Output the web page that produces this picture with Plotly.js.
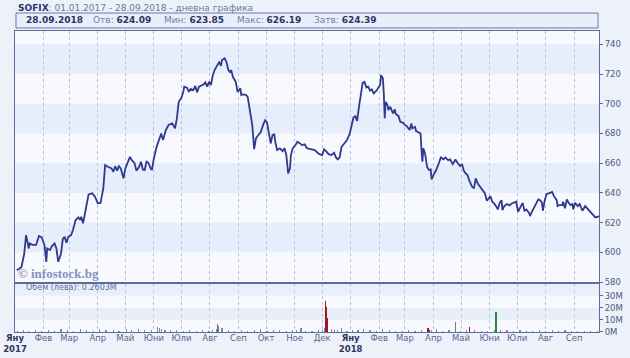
<!DOCTYPE html>
<html><head><meta charset="utf-8">
<script src="https://cdn.plot.ly/plotly-3.0.1.min.js"></script>
<style>html,body{margin:0;padding:0;background:#edf1fa;}#chart{width:630px;height:358px;}</style>
</head><body><div id="chart"></div>
<script>
const dates = ['2017-01-03','2017-01-08','2017-01-11','2017-01-13','2017-01-16','2017-01-17','2017-01-20','2017-01-24','2017-01-27','2017-01-30',
'2017-02-02','2017-02-04','2017-02-05','2017-02-08','2017-02-10','2017-02-13','2017-02-15','2017-02-17','2017-02-20','2017-02-22','2017-02-24','2017-02-26','2017-02-28',
'2017-03-03','2017-03-05','2017-03-08','2017-03-11','2017-03-13','2017-03-14','2017-03-16','2017-03-18','2017-03-20','2017-03-22','2017-03-26','2017-03-29',
'2017-04-01','2017-04-04','2017-04-07','2017-04-09','2017-04-12','2017-04-16','2017-04-18','2017-04-20','2017-04-22','2017-04-24','2017-04-26','2017-04-29',
'2017-05-01','2017-05-04','2017-05-06','2017-05-08','2017-05-11','2017-05-13','2017-05-16','2017-05-18','2017-05-20','2017-05-22','2017-05-24','2017-05-26','2017-05-29','2017-05-30',
'2017-06-01','2017-06-04','2017-06-06','2017-06-09','2017-06-11','2017-06-14','2017-06-17','2017-06-21','2017-06-24','2017-06-26','2017-06-28',
'2017-07-01','2017-07-03','2017-07-04','2017-07-07','2017-07-09','2017-07-11','2017-07-14','2017-07-16','2017-07-18','2017-07-20','2017-07-23','2017-07-25','2017-07-27','2017-07-29','2017-07-31',
'2017-08-02','2017-08-04','2017-08-06','2017-08-09','2017-08-11','2017-08-13','2017-08-14','2017-08-17','2017-08-19','2017-08-21','2017-08-23','2017-08-24','2017-08-26','2017-08-29','2017-08-31',
'2017-09-03','2017-09-04','2017-09-05','2017-09-09','2017-09-11','2017-09-14','2017-09-16','2017-09-18','2017-09-20','2017-09-22','2017-09-25','2017-09-28','2017-09-30',
'2017-10-02','2017-10-04','2017-10-06','2017-10-08','2017-10-10','2017-10-11','2017-10-13','2017-10-16','2017-10-19','2017-10-21','2017-10-23','2017-10-25','2017-10-27','2017-10-28','2017-10-30',
'2017-11-02','2017-11-04','2017-11-07','2017-11-09','2017-11-12','2017-11-14','2017-11-16','2017-11-20','2017-11-23','2017-11-26','2017-11-28',
'2017-12-01','2017-12-03','2017-12-05','2017-12-08','2017-12-11','2017-12-14','2017-12-16','2017-12-18','2017-12-20','2017-12-22','2017-12-25','2017-12-28','2017-12-31',
'2018-01-02','2018-01-04','2018-01-06','2018-01-08','2018-01-10','2018-01-12','2018-01-14','2018-01-16','2018-01-18','2018-01-20','2018-01-22','2018-01-24','2018-01-26','2018-01-29','2018-01-31',
'2018-02-02','2018-02-03','2018-02-05','2018-02-06','2018-02-07','2018-02-08','2018-02-10','2018-02-11','2018-02-13','2018-02-16','2018-02-18','2018-02-19','2018-02-22','2018-02-24','2018-02-27',
'2018-03-01','2018-03-03','2018-03-06','2018-03-08','2018-03-09','2018-03-12','2018-03-13','2018-03-16','2018-03-18','2018-03-19','2018-03-20','2018-03-21','2018-03-23','2018-03-25','2018-03-27','2018-03-29','2018-03-30',
'2018-04-01','2018-04-04','2018-04-07','2018-04-09','2018-04-12','2018-04-14','2018-04-17','2018-04-19','2018-04-22','2018-04-24','2018-04-25','2018-04-27','2018-04-30',
'2018-05-02','2018-05-04','2018-05-06','2018-05-08','2018-05-10','2018-05-13','2018-05-15','2018-05-17','2018-05-19','2018-05-22','2018-05-24','2018-05-27','2018-05-29','2018-05-31',
'2018-06-02','2018-06-04','2018-06-06','2018-06-08','2018-06-10','2018-06-12','2018-06-14','2018-06-15','2018-06-17','2018-06-20','2018-06-23','2018-06-25','2018-06-28','2018-06-30',
'2018-07-02','2018-07-04','2018-07-05','2018-07-07','2018-07-09','2018-07-11','2018-07-14','2018-07-15','2018-07-17','2018-07-20','2018-07-22','2018-07-24','2018-07-26','2018-07-28','2018-07-29','2018-07-31',
'2018-08-02','2018-08-05','2018-08-08','2018-08-10','2018-08-13','2018-08-14','2018-08-16','2018-08-19','2018-08-20','2018-08-22','2018-08-24','2018-08-26','2018-08-28','2018-08-30','2018-08-31',
'2018-09-02','2018-09-05','2018-09-07','2018-09-09','2018-09-10','2018-09-13','2018-09-15','2018-09-18','2018-09-21','2018-09-24','2018-09-27','2018-09-28'];

const closes = [588,590,599,611.6,602.6,606,605,605,611,610,
605,593.6,602.6,601.5,604,606,602.6,593.6,599,609,610.5,606.4,610.5,
611.6,615,621.7,623.5,621.7,624,619.5,626,634,639,639.7,637.4,
633,633.3,643,658.7,657.6,656.5,654.2,658,655,658,656.5,649.8,
656.5,661,664.3,662,660,655,657.6,661,655.8,655.4,661,660.3,655.8,655.8,
663.2,671,675,680,675.6,682.3,685.7,686.8,683.4,690,701.3,
704,708,711.5,710.8,708,710,709.2,712,707.7,711.5,712.6,713,714.4,711.5,714.8,
712.6,718.9,722.7,726,727.9,725.6,729.4,730.6,728,722.7,721,722.7,718,714.8,708,
710.4,706,706.3,706,704.7,694.6,685.7,669.5,676.7,678.5,680.7,686.1,689,
687.5,681,673.3,679,679.4,674.4,668.8,670,668.1,670,665.5,653.1,656.5,665.5,670,
672.2,674.4,673.3,672.2,672.7,670.4,669.8,669.3,668.8,667,666.1,
665.5,669.3,668.3,666.1,665.5,667,663.9,662.6,663.9,671,673.3,675.6,680,
685.7,690.8,691.7,688.5,698,707,714.1,714.8,711,711.5,708.8,709.7,707,708.8,710.4,
712.6,719.3,717.1,707,690.2,701.3,699.1,695.8,698,693.5,696.2,693.1,691.7,687.9,687.2,
685.7,685,682.3,686.8,683.4,684.5,681.8,680.5,680,668.8,661,670,666.1,657.6,655.4,655.8,649.1,
652,655.4,660.3,663.9,662.6,663.9,662.1,662.6,659.4,661.6,662.6,660.3,658,
659.4,654.9,653.1,652,648.2,644.1,643,649.8,646.4,643.7,641.9,639.7,634.7,636.3,
637.8,634,632.9,631.1,628.9,633.3,635.1,628.4,631.1,632.5,631.6,632.9,633.3,634,
627.3,629.6,631.8,633.3,628,628.9,626.6,624.4,627.3,630.6,632.9,635.6,635.1,633.3,628,635.1,
639.2,640.1,640.7,637.8,635.1,631.1,631.8,631.8,634,629.6,635.6,633.3,631.8,632.5,628.9,
633.3,631.1,632.5,628.9,628,631.1,629.6,628,625.7,623.5,624,624.39];

const volDates = ['2017-01-04','2017-01-10','2017-01-16','2017-01-23','2017-01-30',
'2017-02-06','2017-02-13','2017-02-20','2017-02-27',
'2017-03-06','2017-03-13','2017-03-20','2017-03-27',
'2017-04-03','2017-04-10','2017-04-18','2017-04-24',
'2017-05-02','2017-05-08','2017-05-15','2017-05-22','2017-05-29',
'2017-06-05','2017-06-07','2017-06-09','2017-06-13','2017-06-19','2017-06-26',
'2017-07-03','2017-07-10','2017-07-17','2017-07-24','2017-07-31',
'2017-08-04','2017-08-08','2017-08-09','2017-08-10','2017-08-14','2017-08-21','2017-08-28',
'2017-09-04','2017-09-11','2017-09-18','2017-09-25',
'2017-10-02','2017-10-09','2017-10-16','2017-10-23','2017-10-30',
'2017-11-03','2017-11-08','2017-11-13','2017-11-20','2017-11-27',
'2017-12-01','2017-12-04','2017-12-05','2017-12-06','2017-12-07','2017-12-11','2017-12-14','2017-12-18','2017-12-22','2017-12-28',
'2018-01-03','2018-01-09','2018-01-15','2018-01-22','2018-01-29',
'2018-02-05','2018-02-12','2018-02-19','2018-02-26',
'2018-03-05','2018-03-12','2018-03-19','2018-03-26','2018-03-28','2018-03-30',
'2018-04-04','2018-04-11','2018-04-18','2018-04-25','2018-04-30',
'2018-05-07','2018-05-10','2018-05-16','2018-05-23','2018-05-30',
'2018-06-06','2018-06-08','2018-06-13','2018-06-20','2018-06-27',
'2018-07-04','2018-07-11','2018-07-18','2018-07-25',
'2018-08-01','2018-08-08','2018-08-15','2018-08-22','2018-08-29',
'2018-09-05','2018-09-12','2018-09-19','2018-09-26','2018-09-28'];
const volMillions = [0.9,1.3,0.8,1.6,1.2,
1.9,1.1,2.1,1.4,
1.2,2.3,1.7,1.0,
2.5,1.3,1.9,1.1,
2.7,1.5,2.2,1.3,1.6,
3.9,3.3,2.6,2.0,1.3,1.5,
1.2,1.7,1.0,1.4,1.1,
1.9,2.6,6.9,5.3,3.1,1.6,1.1,
1.5,1.0,1.7,2.1,
1.2,1.9,1.4,1.0,1.6,
1.3,3.4,1.2,0.9,1.8,
2.0,3.6,25.8,20.8,11.3,2.7,1.9,1.4,3.4,1.2,
1.3,1.9,2.3,1.6,1.1,
2.1,1.5,1.2,0.9,
1.7,1.0,1.8,3.4,2.0,1.4,
2.4,1.2,1.5,8.5,1.1,
1.3,4.4,1.6,1.2,1.0,
2.0,16.8,1.3,1.5,1.1,
1.4,0.9,1.2,1.6,
1.1,1.3,0.9,1.4,1.0,
1.2,0.8,1.1,0.9,0.26];
const volKind = ['n','n','n','n','n','n','n','n','n','n','n','n','n','n','n','n','n','n','n','n','n','n',
'n','n','n','n','n','n','n','n','n','n','n',
'n','n','o','o','n','n','n','n','n','n','n','n','n','n','n','n','n','n','n','n','n',
'n','n','d','d','d','n','n','n','n','n',
'n','n','n','n','n','n','n','n','n',
'n','n','n','d','d','n',
'n','n','n','o','n',
'n','d','n','n','n',
'n','u','n','n','n',
'n','n','n','n','n','n','n','n','n','n','n','n','n','n'];

const monthStarts = ['2017-01-01','2017-02-01','2017-03-01','2017-04-01','2017-05-01','2017-06-01','2017-07-01','2017-08-01','2017-09-01','2017-10-01','2017-11-01','2017-12-01',
'2018-01-01','2018-02-01','2018-03-01','2018-04-01','2018-05-01','2018-06-01','2018-07-01','2018-08-01','2018-09-01'];
const monthNames = ['Яну','Фев','Мар','Апр','Май','Юни','Юли','Авг','Сеп','Окт','Ное','Дек','Яну','Фев','Мар','Апр','Май','Юни','Юли','Авг','Сеп'];
const priceTicks = [580,600,620,640,660,680,700,720,740];
const volTicks = [0,10,20,30];
const volTickText = ['0M','10M','20M','30M'];
const priceBands = [[600,620],[640,660],[680,700],[720,740]];
const volBands = [[10,20],[30,40]];

const kindColor = {n:'#7c86aa', d:'#a01818', u:'#2f8a3a', o:'#6c8468'};
const tickText = monthNames.map((m,i)=> monthStarts[i].endsWith('-01-01')
  ? '<b><span style="color:#2d3560">'+m+'</span></b><br><b><span style="color:#2d3560">'+monthStarts[i].slice(0,4)+'</span></b>' : m);

const FONT = 'DejaVu Sans';
const xRange = ['2017-01-01','2018-09-28'];
const frame = '#5d6b9c';
const grid = '#b7c2e2';

const traces = [
  {type:'scatter', mode:'lines', x:dates, y:closes, xaxis:'x', yaxis:'y',
   line:{color:'#2e3a8c', width:1.8}, hoverinfo:'skip'},
  {type:'bar', x:volDates, y:volMillions, xaxis:'x2', yaxis:'y2',
   marker:{color: volKind.map(k=>kindColor[k])}, width:1.3*86400000, hoverinfo:'skip'}
];

const shapes = [];
priceBands.forEach(b=>shapes.push({type:'rect', xref:'paper', yref:'y', x0:0, x1:1, y0:b[0], y1:b[1], fillcolor:'#e6edfb', line:{width:0}, layer:'below'}));
volBands.forEach(b=>shapes.push({type:'rect', xref:'paper', yref:'y2', x0:0, x1:1, y0:b[0], y1:b[1], fillcolor:'#e9eefb', line:{width:0}, layer:'below'}));
shapes.push({type:'rect', xref:'paper', yref:'paper', x0:0.0017, x1:0.9983, y0:1.010, y1:1.0598, fillcolor:'#e9eefb', line:{color:'#6a78a6', width:1}});

const W=584, H=301, L=15, B=332;
const px = x => (x-L)/W;
const py = y => (B-y)/H;
const ann = [];
ann.push({xref:'paper', yref:'paper', x:px(16), y:py(8), xanchor:'left', yanchor:'middle', showarrow:false,
  text:'<b><span style="color:#2a3470">SOFIX</span></b>: 01.01.2017 - 28.09.2018 - дневна графика',
  font:{family:FONT, size:9, color:'#6b78a0'}});
const statY = py(20.5);
const stats = [[24,'<b><span style="color:#2d3560">28.09.2018</span></b>'],
  [91,'Отв: <b><span style="color:#2d3560">624.09</span></b>'],
  [162,'Мин: <b><span style="color:#2d3560">623.85</span></b>'],
  [235,'Макс: <b><span style="color:#2d3560">626.19</span></b>'],
  [312,'Затв: <b><span style="color:#2d3560">624.39</span></b>']];
stats.forEach(s=>ann.push({xref:'paper', yref:'paper', x:px(s[0]), y:statY, xanchor:'left', yanchor:'middle', showarrow:false,
  text:s[1], font:{family:FONT, size:9, color:'#7381a8'}}));
ann.push({xref:'paper', yref:'paper', x:px(16), y:py(273), xanchor:'left', yanchor:'middle', showarrow:false,
  text:'<b>© infostock.bg</b>', font:{family:'Liberation Serif', size:13, color:'#8592bb'}});
ann.push({xref:'paper', yref:'paper', x:px(24), y:py(287.5), xanchor:'left', yanchor:'middle', showarrow:false,
  text:'Обем (лева): 0.2603M', font:{family:FONT, size:8, color:'#5f6d9c'}});

const layout = {
  width:630, height:358,
  margin:{l:15, r:31, t:31, b:26, pad:0},
  paper_bgcolor:'#edf1fa', plot_bgcolor:'#f8f9fe',
  showlegend:false, bargap:0,
  font:{family:FONT, size:8.5, color:'#4f5a80'},
  xaxis:{type:'date', range:xRange, domain:[0,1], anchor:'y', tickvals:monthStarts, showticklabels:false,
    showgrid:true, gridcolor:grid, griddash:'dot', gridwidth:1, ticks:'', showline:true, mirror:true, linecolor:frame, linewidth:1, zeroline:false, fixedrange:true},
  yaxis:{range:[580,749], domain:[0.166,1], side:'right', tickvals:priceTicks, ticks:'outside', ticklen:3, tickcolor:frame,
    showgrid:false, zeroline:false, showline:true, mirror:true, linecolor:frame, linewidth:1,
    tickfont:{family:FONT, size:8.5, color:'#4f5a80'}},
  xaxis2:{type:'date', range:xRange, domain:[0,1], anchor:'y2', tickvals:monthStarts, ticktext:tickText, tickangle:0,
    showgrid:true, gridcolor:grid, griddash:'dot', gridwidth:1, ticks:'', ticklabelstandoff:-2, showline:true, mirror:true, linecolor:frame, linewidth:1, zeroline:false,
    tickfont:{family:FONT, size:8.5, color:'#5a6690'}},
  yaxis2:{range:[0,40], domain:[0,0.161], side:'right', tickvals:volTicks, ticktext:volTickText, ticks:'outside', ticklen:3, tickcolor:frame,
    showgrid:false, zeroline:false, showline:true, mirror:true, linecolor:frame, linewidth:1,
    tickfont:{family:FONT, size:8.5, color:'#4f5a80'}},
  shapes:shapes, annotations:ann
};
Plotly.newPlot('chart', traces, layout, {staticPlot:true, displayModeBar:false});
</script></body></html>
